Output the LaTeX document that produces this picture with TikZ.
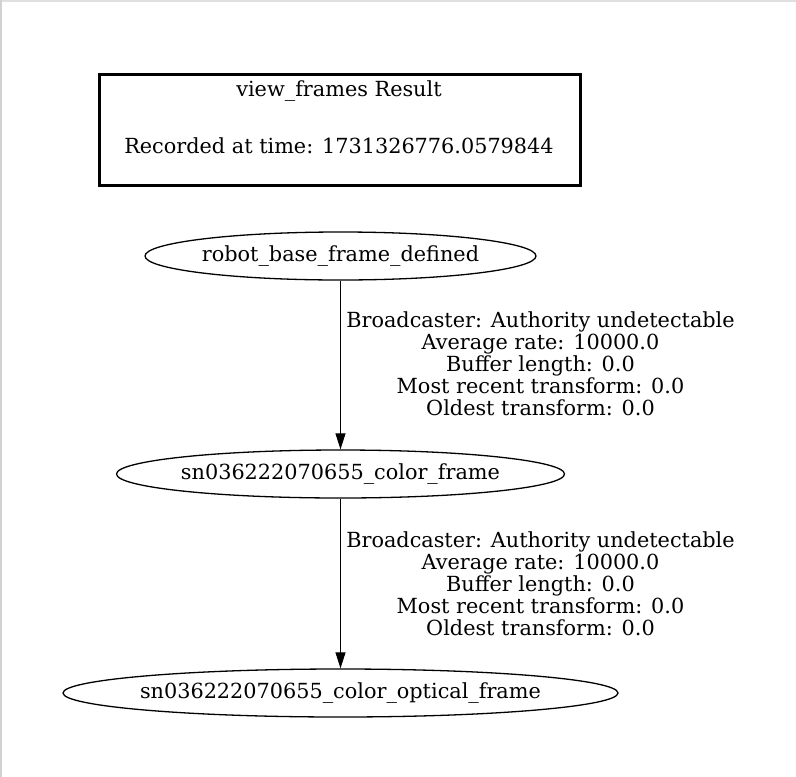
\documentclass[tikz,border=0pt]{standalone}
\usepackage{fontspec}
\setmainfont{DejaVu Serif}
\usetikzlibrary{shapes.geometric,arrows.meta}
\begin{document}
\begin{tikzpicture}[x=1pt,y=-1pt,
  frame/.style={draw,ellipse,inner sep=0pt,line width=1.3pt},
  conn/.style={line width=1pt,-{Triangle[length=16pt,width=10pt]}},
  lbl/.style={align=center,inner sep=0pt,font=\fontsize{20.8}{22}\selectfont}]
\useasboundingbox (0,0) rectangle (796,777);
\fill[gray!25] (0,0) rectangle (796,2);
\fill[gray!35] (0,0) rectangle (1.5,777);
\node[draw,line width=3pt,minimum width=481pt,minimum height=111pt,inner sep=0pt] (title) at (339.5,129.5) {};
\node[lbl] (t1) at (339,91) {view\_frames Result};
\node[lbl] (t2) at (339,146) {Recorded at time: 1731326776.0579844};
\node[frame,minimum width=391pt,minimum height=48pt] (a) at (340.5,256) {};
\node[frame,minimum width=448pt,minimum height=48pt] (b) at (340.5,474) {};
\node[frame,minimum width=555pt,minimum height=48pt] (c) at (340.5,693) {};
\node[lbl] (at) at (a.center) {robot\_base\_frame\_defined};
\node[lbl] (bt) at (b.center) {sn036222070655\_color\_frame};
\node[lbl] (ct) at (c.center) {sn036222070655\_color\_optical\_frame};
\draw[conn] (a) -- (b);
\draw[conn] (b) -- (c);
\node[lbl] (l1) at (540.5,364) {Broadcaster: Authority undetectable\\Average rate: 10000.0\\Buffer length: 0.0\\Most recent transform: 0.0\\Oldest transform: 0.0};
\node[lbl] (l2) at (540.5,584) {Broadcaster: Authority undetectable\\Average rate: 10000.0\\Buffer length: 0.0\\Most recent transform: 0.0\\Oldest transform: 0.0};
\end{tikzpicture}
\end{document}
